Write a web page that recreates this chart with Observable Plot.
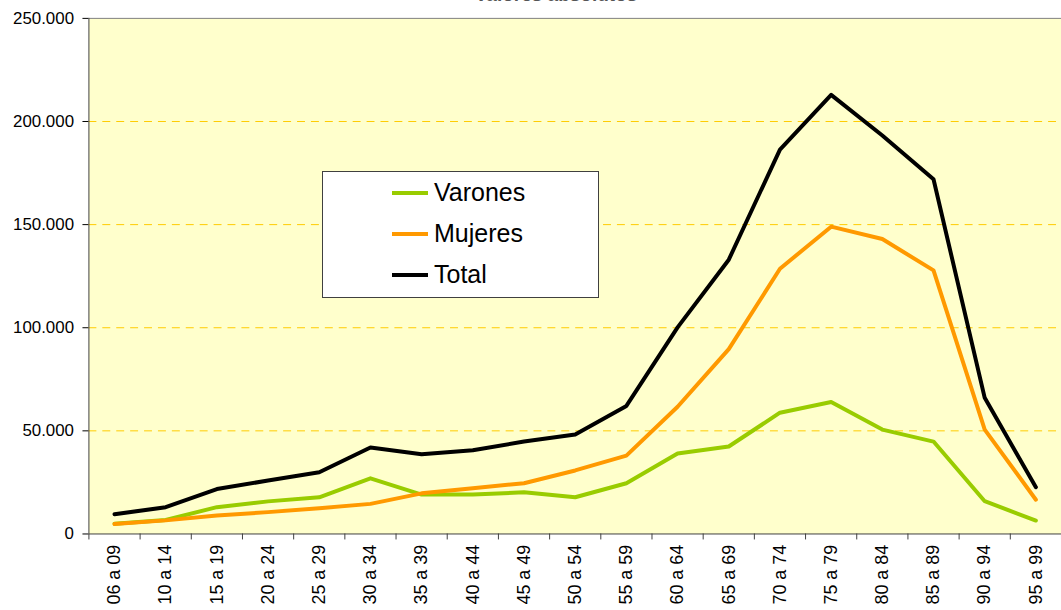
<!DOCTYPE html>
<html>
<head>
<meta charset="utf-8">
<script src="https://cdn.jsdelivr.net/npm/d3@7"></script>
<script src="https://cdn.jsdelivr.net/npm/@observablehq/plot@0.6"></script>
<style>
  html, body { margin: 0; padding: 0; background: #ffffff; overflow: hidden; width: 1061px; height: 610px; }
  #wrap { position: relative; width: 1061px; height: 610px; overflow: hidden; font-family: "Liberation Sans", Arial, sans-serif; }
  #title { position: absolute; top: -16px; left: 456px; width: 200px; text-align: center; font-size: 19px; line-height: 22px; font-weight: bold; color: #555; white-space: nowrap; }
  #legend { position: absolute; left: 322px; top: 171px; width: 275px; height: 125px; background: #fff; border: 1px solid #404040; }
  .item { position: absolute; left: 69px; display: flex; align-items: center; font-size: 25px; line-height: 29px; color: #000; }
  .item span.sw { display: inline-block; width: 36px; height: 4px; margin-right: 6px; }
</style>
</head>
<body>
<div id="wrap">
  <div id="chart"></div>
  <div id="title">Valores absolutos</div>
  <div id="legend"></div>
</div>
<script>
const categories = ["06 a 09","10 a 14","15 a 19","20 a 24","25 a 29","30 a 34","35 a 39","40 a 44","45 a 49","50 a 54","55 a 59","60 a 64","65 a 69","70 a 74","75 a 79","80 a 84","85 a 89","90 a 94","95 a 99"];
const varones = [5000, 6800, 13000, 15800, 17800, 27000, 19100, 19100, 20200, 17800, 24600, 39000, 42400, 58800, 64000, 50600, 44800, 15900, 6500];
const mujeres = [4800, 6600, 9000, 10600, 12500, 14600, 19700, 22200, 24600, 30800, 38000, 61700, 89600, 128600, 149000, 143000, 127800, 50600, 16600];
const total = [9600, 13000, 21800, 25900, 29900, 41900, 38700, 40600, 44800, 48200, 62100, 100200, 133000, 186400, 212900, 193200, 172000, 66000, 22700];
const seriesNames = ["Varones", "Mujeres", "Total"];
const seriesColors = ["#99CC00", "#FF9900", "#000000"];
const yTicks = [0, 50000, 100000, 150000, 200000, 250000];

const seriesValues = [varones, mujeres, total];
const rows = [];
seriesNames.forEach((s, k) => seriesValues[k].forEach((v, i) => rows.push({serie: s, i, v})));
const idx = categories.map((_, i) => i);
const bounds = d3.range(categories.length + 1).map(i => i - 0.5);
const fmt = v => d3.format(",")(v).replace(/,/g, ".");

const chart = Plot.plot({
  width: 1068,
  height: 610,
  marginTop: 18,
  marginBottom: 73,
  marginLeft: 89,
  marginRight: 0,
  style: {fontFamily: "'Liberation Sans', Arial, sans-serif", fontSize: "17px", color: "#000", background: "transparent", overflow: "visible"},
  x: {type: "linear", domain: [-0.5, categories.length - 0.5], label: null},
  y: {domain: [0, 250000], label: null},
  marks: [
    Plot.frame({fill: "#FFFFCC", stroke: "none"}),
    Plot.ruleY(yTicks.filter(t => t > 0 && t < 250000), {stroke: "#FFCC00", strokeWidth: 1, strokeDasharray: "8,6"}),
    Plot.ruleY([250000], {stroke: "#808080", strokeWidth: 1}),
    Plot.axisY({ticks: yTicks, tickFormat: fmt, tickSize: 6, tickPadding: 9, fontSize: 17, stroke: "#000", label: null}),
    Plot.axisX({ticks: bounds, tickFormat: () => "", tickSize: 6, stroke: "#404040", label: null}),
    Plot.axisX({ticks: idx, tickFormat: i => categories[i], tickSize: 0, tickPadding: 11, tickRotate: -90, fontSize: 18, label: null}),
    Plot.ruleX([-0.5], {stroke: "#404040", strokeWidth: 1}),
    Plot.ruleY([0], {stroke: "#404040", strokeWidth: 1}),
    ...seriesNames.map((s, k) => Plot.line(rows.filter(r => r.serie === s), {
      x: "i", y: "v", stroke: seriesColors[k], strokeWidth: 4, strokeLinejoin: "round", strokeLinecap: "round"
    }))
  ]
});
document.getElementById("chart").appendChild(chart);

const legend = document.getElementById("legend");
const tops = [6, 47, 88];
seriesNames.forEach((s, k) => {
  const it = document.createElement("div");
  it.className = "item";
  it.style.top = tops[k] + "px";
  it.innerHTML = `<span class="sw" style="background:${seriesColors[k]}"></span>${s}`;
  legend.appendChild(it);
});
</script>
</body>
</html>
